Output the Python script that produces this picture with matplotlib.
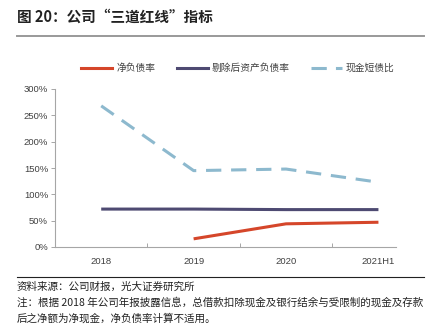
import matplotlib
matplotlib.use("Agg")
import matplotlib.pyplot as plt
from matplotlib.lines import Line2D
from matplotlib.ticker import FuncFormatter

plt.rcParams['font.family'] = ['Noto Sans CJK SC', 'DejaVu Sans']

# data (percent)
periods = ['2018', '2019', '2020', '2021H1']
net_debt = [None, 15.5, 44, 47]
adj_liab = [72, 72, 71, 71]
cash_ratio = [268, 145, 148, 123]

series_names = ['净负债率', '剔除后资产负债率', '现金短债比']
colors = ['#D5462A', '#4E4A72', '#8DB9CE']

title = '图 20：公司“三道红线”指标'
notes = ['资料来源：公司财报，光大证券研究所',
         '注：根据 2018 年公司年报披露信息，总借款扣除现金及银行结余与受限制的现金及存款',
         '后之净额为净现金，净负债率计算不适用。']

W, H = 432, 326
fig = plt.figure(figsize=(W / 100, H / 100), dpi=100)
ax = fig.add_axes([55 / W, 79 / H, 341 / W, 158 / H])

x = list(range(len(periods)))
xs_net = [i for i, v in zip(x, net_debt) if v is not None]
ys_net = [v for v in net_debt if v is not None]
ax.plot(xs_net, ys_net, color=colors[0], lw=2.2, solid_capstyle='butt')
ax.plot(x, adj_liab, color=colors[1], lw=2.2, solid_capstyle='butt')
ax.plot(x, cash_ratio, color=colors[2], lw=2.2, dashes=(5, 3.2))

ax.set_xlim(-0.5, 3.19)
ax.set_ylim(0, 300)
ax.set_yticks(range(0, 301, 50))
ax.yaxis.set_major_formatter(FuncFormatter(lambda v, p: f'{int(v)}%'))
ax.set_xticks(x)
ax.set_xticklabels(periods)
ax.set_xticks([0.5, 1.5, 2.5], minor=True)

for s in ['top', 'right']:
    ax.spines[s].set_visible(False)
for s in ['left', 'bottom']:
    ax.spines[s].set_color('#A6A6A6')
    ax.spines[s].set_linewidth(0.8)

tick_font = dict(family=['Liberation Sans', 'DejaVu Sans'], size=6.8)
ax.tick_params(axis='y', colors='#A6A6A6', length=3, width=0.7, labelcolor='#404040', pad=2)
ax.tick_params(axis='x', which='major', length=0, pad=7, labelcolor='#404040')
ax.tick_params(axis='x', which='minor', direction='in', length=3, width=0.7, colors='#A6A6A6')
for lab in ax.get_yticklabels() + ax.get_xticklabels():
    lab.set_fontproperties(tick_font)

handles = [Line2D([], [], color=colors[0], lw=2.2),
           Line2D([], [], color=colors[1], lw=2.2),
           Line2D([], [], color=colors[2], lw=2.2, dashes=(5, 3))]
fig.legend(handles, series_names, loc='center', bbox_to_anchor=(238 / W, 1 - 68 / H),
           ncol=3, frameon=False, fontsize=7, handlelength=3.2, handletextpad=0.4,
           columnspacing=2.2, labelcolor='#404040')

# header and footer
fig.text(17 / W, 1 - 17 / H, title, fontsize=10.5, fontweight='bold', va='center', color='#222222')
fig.add_artist(Line2D([17 / W, 424 / W], [1 - 36 / H, 1 - 36 / H], color='#999999', lw=1.4))
fig.add_artist(Line2D([17 / W, 424 / W], [1 - 277 / H, 1 - 277 / H], color='#222222', lw=0.8))
for i, t in enumerate(notes):
    fig.text(17 / W, 1 - (287 + 15.5 * i) / H, t, fontsize=7.6, va='center', color='#222222')

fig.savefig('out.png', dpi=100)
